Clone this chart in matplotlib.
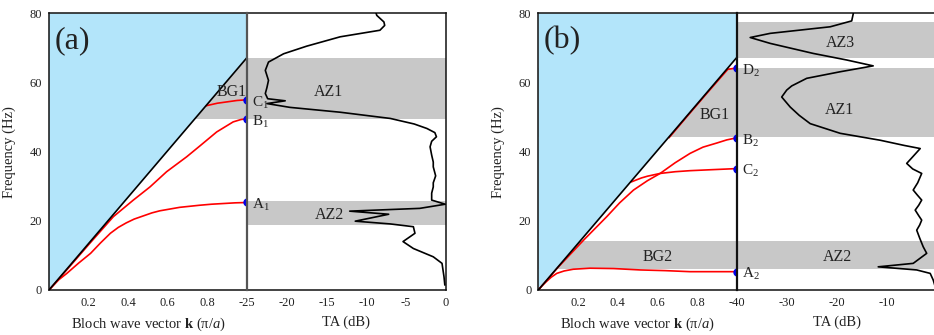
import numpy as np
import matplotlib
matplotlib.use("Agg")
import matplotlib.pyplot as plt

plt.rcParams['font.family'] = ['Liberation Serif', 'DejaVu Serif']
plt.rcParams['mathtext.fontset'] = 'custom'
plt.rcParams['mathtext.rm'] = 'Liberation Serif'
plt.rcParams['mathtext.it'] = 'Liberation Serif:italic'
plt.rcParams['mathtext.bf'] = 'Liberation Serif:bold'
plt.rcParams['axes.unicode_minus'] = False

# ---------------- data ----------------
sound_slope = 67.2          # sound line: f = sound_slope * k

# panel (a): dispersion branches
kA1 = [0, 0.05, 0.09, 0.15, 0.21, 0.26, 0.31, 0.35, 0.39, 0.43, 0.48, 0.52, 0.56,
       0.61, 0.66, 0.71, 0.76, 0.82, 0.88, 0.94, 1.0]
fA1 = [0, 3.0, 4.8, 7.8, 10.6, 13.6, 16.4, 18.1, 19.4, 20.5, 21.5, 22.3, 22.9,
       23.4, 23.9, 24.2, 24.5, 24.8, 25.0, 25.2, 25.3]
kB1 = [0, 0.1, 0.2, 0.325, 0.426, 0.51, 0.594, 0.695, 0.763, 0.847, 0.93, 0.97, 1.0]
fB1 = [0, 6.5, 13.1, 21.2, 26.0, 29.8, 34.2, 38.5, 41.7, 45.7, 48.6, 49.3, 49.5]
kC1 = [0.796, 0.85, 0.9, 0.95, 1.0]
fC1 = [53.3, 54.0, 54.4, 54.8, 55.0]
pts_a = {'A': 25.3, 'B': 49.5, 'C': 55.0}

# panel (a): transmission amplitude
fTA_a = [81.0, 79.4, 77.5, 76.5, 75.1, 73.2, 70.5, 68.3, 65.9, 63.5, 60.6, 58.5,
         56.8, 55.3, 54.7, 53.9, 52.8, 51.4, 49.6, 48.0, 46.7, 45.5, 44.3, 43.0,
         41.4, 39.0, 37.0, 35.6, 33.0, 31.0, 29.8, 28.0, 26.0, 24.8, 23.6, 22.8,
         21.9, 19.9, 19.1, 18.3, 16.4, 14.0, 12.0, 9.6, 7.7, 3.8, 1.5]
TA_a = [-8.9, -8.7, -7.8, -7.7, -8.3, -13.3, -17.5, -20.4, -22.3, -22.7, -22.3, -22.5,
        -22.7, -22.4, -20.2, -22.5, -19.6, -13.3, -7.0, -4.0, -2.4, -1.4, -1.2, -1.8,
        -2.0, -1.8, -1.6, -1.6, -1.3, -1.6, -1.6, -1.8, -1.8, -0.1, -3.3, -12.1,
        -7.2, -11.4, -7.0, -4.1, -3.9, -5.4, -4.1, -1.6, -0.5, -0.25, -0.15]

# panel (b): dispersion branches
kA2 = [0, 0.02, 0.04, 0.065, 0.093, 0.13, 0.176, 0.26, 0.38, 0.513, 0.64, 0.765, 0.88, 1.0]
fA2 = [0, 1.3, 2.4, 3.7, 4.8, 5.5, 6.0, 6.3, 6.2, 5.8, 5.6, 5.3, 5.3, 5.3]
kB2 = [0, 0.1, 0.228, 0.345, 0.41, 0.48, 0.55, 0.614, 0.69, 0.765, 0.83, 0.9, 0.95, 1.0]
fB2 = [0, 6.6, 14.4, 21.2, 25.2, 28.9, 31.6, 33.7, 36.8, 39.5, 41.3, 42.5, 43.4, 44.0]
kC2 = [0.471, 0.52, 0.55, 0.614, 0.69, 0.765, 0.88, 1.0]
fC2 = [31.3, 32.4, 32.9, 33.7, 34.2, 34.5, 34.8, 35.1]
kD2 = [0.66, 0.75, 0.85, 0.955, 1.0]
fD2 = [44.1, 50.2, 56.9, 63.8, 64.2]
pts_b = {'A': 5.3, 'B': 44.0, 'C': 35.1, 'D': 64.2}

# panel (b): transmission amplitude
fTA_b = [81.0, 79.8, 77.8, 76.1, 74.2, 73.0, 71.3, 68.4, 66.5, 64.8, 63.1, 61.2,
         59.0, 57.8, 55.8, 52.9, 50.5, 48.1, 45.3, 43.3, 41.8, 40.9, 38.5, 36.6,
         35.0, 33.7, 31.0, 28.9, 27.5, 26.0, 24.5, 23.1, 21.5, 20.2, 18.8, 17.3,
         15.0, 12.5, 10.6, 7.7, 6.7, 5.8, 4.8, 2.9, 0.0]
TA_b = [-16.6, -16.7, -17.0, -21.3, -33.3, -37.3, -33.3, -24.7, -18.0, -12.7, -19.3, -26.0,
        -29.0, -30.0, -31.0, -29.3, -27.5, -25.3, -19.3, -11.3, -6.5, -3.3, -4.8, -6.0,
        -4.8, -3.0, -3.8, -4.7, -3.9, -3.0, -3.6, -4.3, -3.6, -3.0, -3.4, -4.0,
        -3.4, -2.7, -2.0, -4.7, -11.7, -4.0, -1.3, -0.7, -0.1]

# stop/attenuation bands (low, high) in Hz
bands_a_full = [(49.4, 67.2)]
bands_a_ta = [(18.8, 25.7)]
bands_b_full = [(44.1, 64.3), (6.0, 14.1)]
bands_b_ta = [(67.2, 77.6)]

k_ticks = [0.2, 0.4, 0.6, 0.8]
f_ticks = [0, 20, 40, 60, 80]
ta_ticks_a = [-25, -20, -15, -10, -5, 0]
ta_ticks_b = [-40, -30, -20, -10, 0]

# ---------------- styling ----------------
W, H = 934, 335
GREY = '#c8c8c8'
CYAN = '#b3e5fa'
TXT = '#222222'

fig = plt.figure(figsize=(W / 100, H / 100), dpi=100)


def px_axes(x0, x1, y_top=13.3, y_bot=290.0):
    return fig.add_axes([x0 / W, (H - y_bot) / H, (x1 - x0) / W, (y_bot - y_top) / H])


def style(ax):
    ax.set_ylim(0, 80)
    ax.tick_params(length=0, labelsize=9, colors=TXT, pad=5)
    for s in ax.spines.values():
        s.set_linewidth(1.1)
        s.set_color('#111111')


def draw_panel(xk0, xdiv, xta1, kcurves, pts, fTA, TA, ta_ticks, ta_min,
               bands_full, bands_ta, divider_color, letter, texts_k, texts_ta, sub):
    axk = px_axes(xk0, xdiv)
    axt = px_axes(xdiv, xta1)
    for ax in (axk, axt):
        style(ax)
    axk.set_xlim(0, 1)
    axt.set_xlim(ta_min, 0)

    for lo, hi in bands_full:
        axk.axhspan(lo, hi, color=GREY, lw=0, zorder=0)
        axt.axhspan(lo, hi, color=GREY, lw=0, zorder=0)
    for lo, hi in bands_ta:
        axt.axhspan(lo, hi, color=GREY, lw=0, zorder=0)

    # light cone region above the sound line
    axk.fill([0, 1, 1, 0], [0, sound_slope, 80, 80], color=CYAN, lw=0, zorder=1)
    for k, f in kcurves:
        axk.plot(k, f, color='red', lw=1.2, zorder=2, solid_joinstyle='round')
    axk.plot([0, 1], [0, sound_slope], color='black', lw=1.2, zorder=3)

    for name, f in pts.items():
        axk.plot([1], [f], 'o', color='#0000ee', ms=5, clip_on=False, zorder=6)
        axt.text(ta_min + 0.026 * (-ta_min), f - 0.8, f'{name}$_{sub}$',
                 fontsize=11, color=TXT, va='center', ha='left', zorder=7)

    axt.plot(TA, fTA, color='black', lw=1.2, zorder=3)

    axk.set_yticks(f_ticks)
    axk.set_xticks(k_ticks)
    axk.set_xticklabels([f'{v:.1f}' for v in k_ticks])
    axt.set_xticks(ta_ticks)
    axt.set_xticklabels([str(v) for v in ta_ticks])
    axt.set_yticks([])

    axk.spines['right'].set_visible(False)
    axt.spines['left'].set_color(divider_color)
    axt.spines['left'].set_linewidth(1.6)
    axt.spines['left'].set_zorder(5)

    axk.set_ylabel('Frequency (Hz)', fontsize=10.5, color=TXT)
    axk.yaxis.set_label_coords(-0.168, 0.5)
    axk.text(0.5, -0.125, r'Bloch wave vector $\mathbf{k}$ (π/$a$)', transform=axk.transAxes,
             fontsize=10.5, color=TXT, ha='center', va='center')
    axt.text(0.5, -0.118, 'TA (dB)', transform=axt.transAxes,
             fontsize=10.5, color=TXT, ha='center', va='center')

    axk.text(0.12, 72.2, letter, fontsize=23, color=TXT, ha='center', va='center', zorder=8)
    for (x, y, s) in texts_k:
        axk.text(x, y, s, fontsize=11.5, color=TXT, ha='center', va='center', zorder=8)
    for (x, y, s) in texts_ta:
        axt.text(x, y, s, fontsize=11.5, color=TXT, ha='center', va='center', zorder=8)
    return axk, axt


draw_panel(49, 247, 446,
           [(kA1, fA1), (kB1, fB1), (kC1, fC1)], pts_a, fTA_a, TA_a, ta_ticks_a, -25,
           bands_a_full, bands_a_ta, '#555555', '(a)',
           [(0.925, 57.2, 'BG1')],
           [(-14.8, 57.2, 'AZ1'), (-14.7, 21.7, 'AZ2')], 1)

draw_panel(538.3, 736.7, 936.7,
           [(kA2, fA2), (kB2, fB2), (kC2, fC2), (kD2, fD2)], pts_b, fTA_b, TA_b, ta_ticks_b, -40,
           bands_b_full, bands_b_ta, '#111111', '(b)',
           [(0.89, 50.5, 'BG1'), (0.6, 9.5, 'BG2')],
           [(-19.3, 71.3, 'AZ3'), (-19.5, 52.0, 'AZ1'), (-19.9, 9.5, 'AZ2')], 2)

fig.savefig('out.png', dpi=100)
